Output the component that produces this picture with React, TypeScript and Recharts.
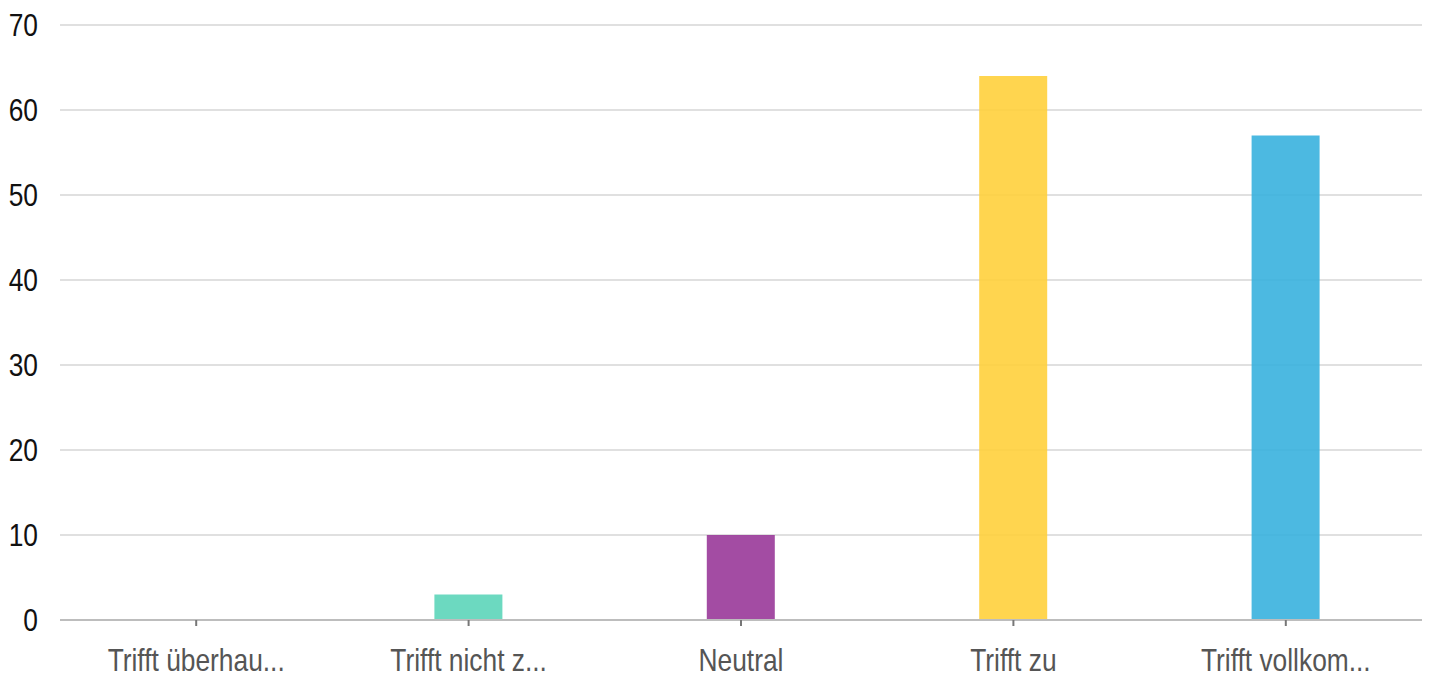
import { BarChart, Bar, XAxis, YAxis, CartesianGrid, Cell } from 'recharts';

const categories = ['Trifft überhau...', 'Trifft nicht z...', 'Neutral', 'Trifft zu', 'Trifft vollkom...'];
const counts = [0, 3, 10, 64, 57];
const barColors = ['#5cd5b9', '#5cd5b9', '#993899', '#ffd03c', '#39b1de'];
const yTicks = [0, 10, 20, 30, 40, 50, 60, 70];

const data = categories.map((name, i) => ({ name, count: counts[i], color: barColors[i] }));

const FONT = '"Liberation Sans", Arial, sans-serif';

// labels in the source are drawn in a narrow face; squeeze the regular one
function NarrowTick({ x, y, payload, anchor, dy, fill }: any) {
  return (
    <g transform={`translate(${x},${y})`}>
      <text
        transform="scale(0.85,1)"
        textAnchor={anchor}
        dy={dy}
        fill={fill}
        fontSize={31}
        fontFamily={FONT}
      >
        {payload.value}
      </text>
    </g>
  );
}

export default function App() {
  return (
    <div style={{ position: 'absolute', left: 0, top: 0, background: '#fff', fontFamily: FONT }}>
      <BarChart width={1432} height={677} data={data} margin={{ top: 25, right: 10, bottom: 0, left: 0 }}>
        <CartesianGrid vertical={false} stroke="#e0e0e0" strokeWidth={2} />
        <XAxis
          dataKey="name"
          height={57}
          interval={0}
          axisLine={{ stroke: '#bdbdbd', strokeWidth: 2 }}
          tickLine={{ stroke: '#777', strokeWidth: 2 }}
          tickSize={6}
          tickMargin={23}
          tick={<NarrowTick anchor="middle" dy="0.71em" fill="#555" />}
        />
        <YAxis
          width={60}
          domain={[0, 70]}
          ticks={yTicks}
          axisLine={false}
          tickLine={false}
          tickSize={0}
          tickMargin={22}
          tick={<NarrowTick anchor="end" dy="0.355em" fill="#111" />}
        />
        <Bar dataKey="count" barSize={68} fillOpacity={0.9} isAnimationActive={false}>
          {data.map((entry, index) => (
            <Cell key={`cell-${index}`} fill={entry.color} />
          ))}
        </Bar>
      </BarChart>
    </div>
  );
}
